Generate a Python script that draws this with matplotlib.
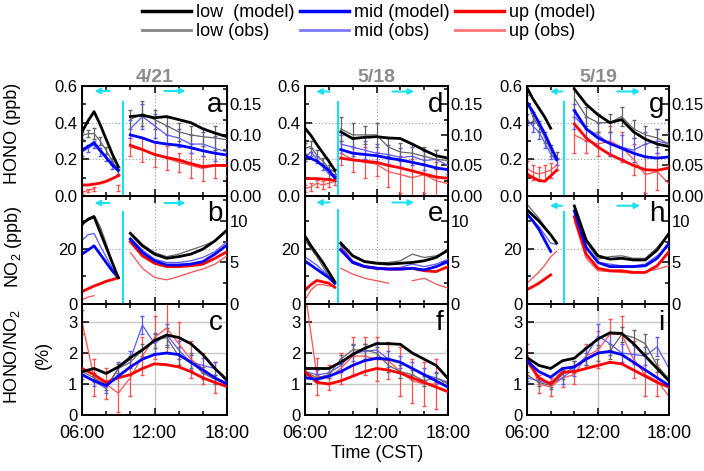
import numpy as np
import matplotlib
matplotlib.use('Agg')
import matplotlib.pyplot as plt
from matplotlib.lines import Line2D
from matplotlib.ticker import MultipleLocator, FormatStrFormatter

nan = np.nan

plt.rcParams['font.family'] = ['Liberation Sans', 'DejaVu Sans']
plt.rcParams['mathtext.default'] = 'regular'

days = ['4/21', '5/18', '5/19']
letters = ['abc', 'def', 'ghi']
switch_time = [9.4, 8.77, 9.13]
hours = [6, 7, 8, 9, 10, 11, 12, 13, 14, 15, 16, 17, 18]

# ---------------- 4/21 ----------------
t_am_421 = [6, 6.5, 7, 7.5, 8, 8.5, 9]
t_pm_421 = [10, 11, 12, 13, 14, 15, 16, 17, 18]
# [low, mid, up]
hono_mod_am_421 = [[0.35, 0.41, 0.46, 0.39, 0.31, 0.23, 0.16],
                   [0.25, 0.27, 0.29, 0.25, 0.21, 0.17, 0.14],
                   [0.06, 0.06, 0.065, 0.07, 0.08, 0.095, 0.11]]
hono_obs_am_421 = [[0.33, 0.34, 0.34, 0.30, 0.25, 0.19, 0.14],
                   [0.24, 0.26, 0.28, 0.24, 0.21, 0.17, 0.13],
                   [0.02, 0.03, 0.04, nan, nan, nan, 0.045]]
hono_err_am_421 = [[0.02, 0.02, 0.03, 0.02, 0.02, 0.02, 0.02],
                   [0.02, 0.02, 0.02, 0.02, 0.02, 0.02, 0.015],
                   [0.01, 0.01, 0.01, nan, nan, nan, 0.015]]
hono_mod_pm_421 = [[0.130, 0.132, 0.128, 0.130, 0.125, 0.120, 0.110, 0.103, 0.097],
                   [0.100, 0.095, 0.088, 0.085, 0.083, 0.079, 0.074, 0.070, 0.067],
                   [0.083, 0.076, 0.068, 0.063, 0.059, 0.053, 0.048, 0.050, 0.050]]
hono_obs_pm_421 = [[0.125, 0.135, 0.125, 0.115, 0.105, 0.100, 0.097, 0.095, 0.092],
                   [0.110, 0.130, 0.115, 0.100, 0.095, 0.085, 0.085, 0.078, 0.072],
                   [0.080, 0.075, 0.068, 0.062, 0.055, 0.050, 0.045, 0.050, 0.048]]
hono_err_pm_421 = [[0.015, 0.02, 0.015, 0.015, 0.015, 0.015, 0.015, 0.02, 0.015],
                   [0.015, 0.02, 0.02, 0.015, 0.015, 0.015, 0.02, 0.02, 0.015],
                   [0.015, 0.02, 0.02, 0.02, 0.015, 0.02, 0.02, 0.02, 0.015]]
no2_mod_am_421 = [[29, 30.5, 31.5, 26, 20.5, 15, 9.5],
                  [18, 19.5, 21, 18, 15, 12, 9.5],
                  [4.5, 5.5, 6.5, 7.3, 8.2, 8.8, 9.5]]
no2_obs_am_421 = [[28, 31, 32, 28, 22, 15, 10],
                  [23, 25, 25.5, 21, 17, 13, 10],
                  [1.5, 2.5, 3.0, nan, nan, nan, 6.0]]
no2_mod_pm_421 = [[8.5, 7.0, 6.0, 5.5, 5.7, 6.0, 6.6, 7.6, 8.9],
                  [7.8, 6.2, 5.2, 4.7, 4.7, 4.8, 5.1, 6.0, 7.1],
                  [7.5, 5.8, 4.9, 4.5, 4.5, 4.6, 4.8, 5.5, 6.3]]
no2_obs_pm_421 = [[8.6, 7.2, 6.2, 5.7, 6.0, 6.5, 7.0, 7.6, 8.8],
                  [8.0, 6.5, 5.4, 5.0, 5.0, 5.2, 5.6, 6.3, 7.5],
                  [6.2, 4.3, 3.2, 2.9, 3.3, 3.8, 4.2, 4.8, 5.8]]
ratio_mod_421 = [[1.40, 1.50, 1.34, 1.55, 1.85, 2.10, 2.40, 2.58, 2.50, 2.30, 1.95, 1.50, 1.13],
                 [1.30, 1.10, 0.95, 1.25, 1.55, 1.80, 1.95, 2.00, 1.95, 1.70, 1.45, 1.20, 1.00],
                 [1.50, 1.30, 1.05, 1.20, 1.30, 1.50, 1.65, 1.62, 1.55, 1.40, 1.20, 1.05, 0.92]]
ratio_obs_421 = [[1.40, 1.20, 0.90, 1.50, 1.70, 2.10, 2.40, 2.50, 1.90, 1.75, 1.35, 1.15, 1.00],
                 [1.30, 1.10, 0.85, 1.50, 1.80, 2.90, 2.30, 2.60, 2.10, 1.70, 1.60, 1.50, 1.05],
                 [3.00, 1.20, 1.00, 0.70, 1.20, 1.90, 2.50, 2.80, 2.30, 1.80, 1.50, 1.20, 0.95]]
ratio_err_421 = [[0.10, 0.15, 0.10, 0.15, 0.20, 0.20, 0.25, 0.30, 0.30, 0.25, 0.20, 0.15, 0.10],
                 [0.15, 0.15, 0.15, 0.20, 0.25, 0.30, 0.30, 0.35, 0.30, 0.25, 0.25, 0.20, 0.15],
                 [0.40, 0.60, 0.50, 0.60, 0.60, 0.60, 0.70, 0.80, 0.70, 0.60, 0.50, 0.50, 0.40]]

# ---------------- 5/18 ----------------
t_am_518 = [6, 6.5, 7, 7.5, 8, 8.5]
t_pm_518 = [9, 10, 11, 12, 13, 14, 15, 16, 17, 18]
hono_mod_am_518 = [[0.37, 0.33, 0.28, 0.235, 0.19, 0.14],
                   [0.22, 0.205, 0.19, 0.165, 0.14, 0.10],
                   [0.095, 0.095, 0.095, 0.092, 0.09, 0.085]]
hono_obs_am_518 = [[0.26, 0.27, 0.22, 0.19, 0.15, 0.13],
                   [0.21, 0.24, 0.20, 0.16, 0.12, 0.10],
                   [0.04, 0.05, 0.07, 0.06, 0.07, 0.08]]
hono_err_am_518 = [[0.03, 0.03, 0.03, 0.02, 0.02, 0.02],
                   [0.02, 0.02, 0.02, 0.02, 0.02, 0.02],
                   [0.02, 0.02, 0.02, 0.02, 0.02, 0.02]]
hono_mod_pm_518 = [[0.105, 0.094, 0.096, 0.097, 0.095, 0.094, 0.085, 0.075, 0.066, 0.062],
                   [0.076, 0.070, 0.068, 0.066, 0.062, 0.059, 0.055, 0.051, 0.046, 0.043],
                   [0.062, 0.059, 0.057, 0.055, 0.050, 0.046, 0.041, 0.036, 0.031, 0.029]]
hono_obs_pm_518 = [[0.110, 0.100, 0.100, 0.100, 0.080, 0.072, 0.070, 0.065, 0.060, 0.058],
                   [0.085, 0.080, 0.075, 0.070, 0.068, 0.063, 0.065, 0.058, 0.060, 0.050],
                   [0.070, 0.060, 0.055, 0.052, 0.040, 0.035, 0.030, 0.035, 0.025, 0.020]]
hono_err_pm_518 = [[0.02, 0.02, 0.015, 0.02, 0.015, 0.015, 0.015, 0.015, 0.015, 0.02],
                   [0.015, 0.015, 0.015, 0.015, 0.015, 0.015, 0.015, 0.015, 0.015, 0.015],
                   [0.02, 0.02, 0.025, 0.02, 0.025, 0.03, 0.03, 0.03, 0.03, 0.03]]
no2_mod_am_518 = [[24.5, 21, 18, 15, 11.5, 8],
                  [15.5, 14, 12.5, 11, 9.5, 7.5],
                  [5, 7, 8.5, 8, 7.5, 6]]
no2_obs_am_518 = [[23, 20, 17, 13.5, 10, 8],
                  [17, 15.5, 14, 12, 10, 7],
                  [1.5, 5, 7, 7, 6.5, 6.5]]
no2_mod_pm_518 = [[7.3, 5.8, 5.1, 4.9, 4.8, 4.9, 5.0, 5.2, 5.6, 6.5],
                  [6.5, 5.0, 4.5, 4.3, 4.2, 4.2, 4.3, 4.1, 4.5, 5.1],
                  [6.6, 5.0, 4.5, 4.3, 4.2, 4.2, 4.3, 4.0, 3.9, 4.5]]
no2_obs_pm_518 = [[7.5, 5.9, 5.2, 5.0, 5.0, 5.2, 6.0, 5.6, 5.8, 6.3],
                  [7.0, 5.2, 4.6, 4.4, 4.3, 4.4, 4.8, 4.5, 4.8, 5.4],
                  [4.3, 3.6, 3.1, 2.8, 2.5, nan, 2.8, 3.1, 2.4, 1.9]]
ratio_mod_518 = [[1.50, 1.50, 1.50, 1.70, 1.95, 2.15, 2.30, 2.30, 2.28, 2.00, 1.80, 1.60, 1.18],
                 [1.20, 1.15, 1.25, 1.40, 1.60, 1.75, 1.83, 1.80, 1.70, 1.50, 1.30, 1.10, 0.90],
                 [1.40, 1.05, 1.00, 1.10, 1.25, 1.40, 1.50, 1.45, 1.35, 1.20, 1.05, 0.90, 0.75]]
ratio_obs_518 = [[1.40, 1.20, 1.30, 1.80, 2.10, 2.10, 2.00, 1.60, 1.40, 1.30, 1.10, 1.20, 1.00],
                 [1.40, 1.30, 1.35, 1.60, 2.00, 2.05, 2.10, 1.80, 1.70, 1.50, 1.30, 1.20, 1.05],
                 [4.00, 1.25, 1.20, 1.50, 1.90, 1.90, 1.80, 1.75, 1.40, 1.10, 1.00, 1.00, 1.10]]
ratio_err_518 = [[0.10, 0.10, 0.10, 0.15, 0.20, 0.20, 0.20, 0.20, 0.20, 0.15, 0.15, 0.15, 0.10],
                 [0.15, 0.15, 0.15, 0.20, 0.25, 0.25, 0.25, 0.25, 0.20, 0.20, 0.20, 0.20, 0.15],
                 [0.50, 0.60, 0.40, 0.50, 0.60, 0.60, 0.70, 0.60, 0.80, 0.70, 0.70, 0.80, 1.00]]

# ---------------- 5/19 ----------------
t_am_519 = [6, 6.5, 7, 7.5, 8, 8.5]
t_pm_519 = [10, 11, 12, 13, 14, 15, 16, 17, 18]
hono_mod_am_519 = [[0.59, 0.53, 0.48, 0.43, 0.37, nan],
                   [0.51, 0.46, 0.40, 0.34, 0.27, 0.20],
                   [0.12, 0.10, 0.085, 0.08, 0.11, 0.14]]
hono_obs_am_519 = [[0.52, 0.43, 0.38, 0.32, 0.25, 0.22],
                   [0.42, 0.38, 0.35, 0.29, 0.23, 0.19],
                   [0.15, 0.13, 0.12, 0.13, 0.14, 0.17]]
hono_err_am_519 = [[0.03, 0.03, 0.03, 0.03, 0.03, 0.02],
                   [0.03, 0.03, 0.04, 0.03, 0.03, 0.02],
                   [0.04, 0.04, 0.04, 0.04, 0.04, 0.03]]
hono_mod_pm_519 = [[0.175, 0.150, 0.133, 0.120, 0.125, 0.105, 0.093, 0.085, 0.081],
                   [0.140, 0.110, 0.095, 0.086, 0.078, 0.070, 0.064, 0.062, 0.064],
                   [0.118, 0.095, 0.080, 0.068, 0.059, 0.050, 0.043, 0.042, 0.046]]
hono_obs_pm_519 = [[0.160, 0.130, 0.120, 0.120, 0.130, 0.110, 0.100, 0.095, 0.085],
                   [0.130, 0.110, 0.100, 0.085, 0.080, 0.075, 0.085, 0.090, 0.085],
                   [0.100, 0.090, 0.085, 0.090, 0.080, 0.060, 0.035, 0.040, 0.020]]
hono_err_pm_519 = [[0.02, 0.015, 0.015, 0.015, 0.015, 0.015, 0.015, 0.015, 0.015],
                   [0.02, 0.02, 0.02, 0.02, 0.02, 0.02, 0.02, 0.02, 0.02],
                   [0.03, 0.02, 0.02, 0.025, 0.025, 0.025, 0.03, 0.03, 0.03]]
no2_mod_am_519 = [[34, 32, 30, 27.5, 25, 22],
                  [32.5, 30, 27, 23, 19, nan],
                  [5.2, 6.3, 7.5, 9, 10.5, nan]]
no2_obs_am_519 = [[36, 33.5, 31, 28, 25, 22],
                  [32, 30, 28, 25, 22, 21.5],
                  [7.5, 9.5, 11.5, 14, 17, 19]]
no2_mod_pm_519 = [[11.8, 7.7, 5.8, 5.4, 5.5, 5.3, 5.3, 6.5, 8.5],
                  [11.2, 6.8, 5.0, 4.5, 4.5, 4.5, 4.6, 5.5, 7.3],
                  [10.5, 6.0, 4.3, 4.0, 4.0, 3.8, 3.8, 4.6, 6.3]]
no2_obs_pm_519 = [[11.5, 7.5, 5.4, 5.7, 5.8, 5.5, 5.5, 6.8, 8.5],
                  [11.0, 7.0, 5.0, 4.8, 4.6, 4.6, 4.8, 5.8, 7.0],
                  [10.0, 5.5, 4.0, 3.9, 3.8, 3.7, 3.9, 4.2, 4.6]]
ratio_mod_519 = [[1.85, 1.60, 1.50, 1.75, 1.83, 2.15, 2.45, 2.65, 2.63, 2.30, 1.90, 1.50, 1.10],
                 [1.75, 1.40, 1.22, 1.50, 1.55, 1.80, 2.00, 2.05, 1.95, 1.70, 1.45, 1.20, 0.95],
                 [1.75, 1.20, 1.00, 1.38, 1.40, 1.50, 1.60, 1.70, 1.65, 1.45, 1.25, 1.05, 0.90]]
ratio_obs_519 = [[1.30, 1.05, 0.95, 1.30, 1.55, 1.80, 2.00, 2.05, 2.60, 2.50, 2.30, 1.60, 1.15],
                 [1.20, 1.10, 1.00, 1.20, 1.50, 1.90, 2.55, 2.30, 2.00, 1.95, 1.90, 2.20, 1.50],
                 [2.00, 1.00, 0.90, 1.20, 1.30, 1.90, 2.10, 2.60, 2.60, 1.80, 1.30, 1.10, 0.60]]
ratio_err_519 = [[0.10, 0.10, 0.10, 0.15, 0.20, 0.20, 0.25, 0.25, 0.25, 0.25, 0.30, 0.20, 0.15],
                 [0.10, 0.10, 0.10, 0.20, 0.25, 0.30, 0.40, 0.35, 0.30, 0.30, 0.30, 0.30, 0.25],
                 [0.30, 0.30, 0.30, 0.30, 0.30, 0.40, 0.60, 0.50, 0.60, 0.60, 0.70, 0.50, 0.40]]

t_am = [t_am_421, t_am_518, t_am_519]
t_pm = [t_pm_421, t_pm_518, t_pm_519]
hono_mod_am = [hono_mod_am_421, hono_mod_am_518, hono_mod_am_519]
hono_obs_am = [hono_obs_am_421, hono_obs_am_518, hono_obs_am_519]
hono_err_am = [hono_err_am_421, hono_err_am_518, hono_err_am_519]
hono_mod_pm = [hono_mod_pm_421, hono_mod_pm_518, hono_mod_pm_519]
hono_obs_pm = [hono_obs_pm_421, hono_obs_pm_518, hono_obs_pm_519]
hono_err_pm = [hono_err_pm_421, hono_err_pm_518, hono_err_pm_519]
no2_mod_am = [no2_mod_am_421, no2_mod_am_518, no2_mod_am_519]
no2_obs_am = [no2_obs_am_421, no2_obs_am_518, no2_obs_am_519]
no2_mod_pm = [no2_mod_pm_421, no2_mod_pm_518, no2_mod_pm_519]
no2_obs_pm = [no2_obs_pm_421, no2_obs_pm_518, no2_obs_pm_519]
ratio_mod = [ratio_mod_421, ratio_mod_518, ratio_mod_519]
ratio_obs = [ratio_obs_421, ratio_obs_518, ratio_obs_519]
ratio_err = [ratio_err_421, ratio_err_518, ratio_err_519]

mod_colors = ['black', '#0000ff', '#ff0000']
obs_colors = ['#666666', '#5a5aff', '#ff5050']
cyan = '#1ee0ec'

W, H = 704, 471
col_px = [(82, 145), (305, 143), (527, 142)]
row_px = [(86, 196), (196, 304), (304, 415)]

fig = plt.figure(figsize=(W / 100, H / 100), dpi=100)


def add_ax(c, r):
    x0, w = col_px[c]
    top, bot = row_px[r]
    return fig.add_axes([x0 / W, 1 - bot / H, w / W, (bot - top) / H])


def draw(ax, t, mod, obs, err=None):
    for k in [2, 1, 0]:
        if err is None:
            ax.plot(t, obs[k], color=obs_colors[k], lw=0.9, zorder=2)
        else:
            ax.errorbar(t, obs[k], yerr=err[k], color=obs_colors[k], lw=0.9,
                        elinewidth=0.9, capsize=1.5, zorder=2)
    for k in [2, 1, 0]:
        ax.plot(t, mod[k], color=mod_colors[k], lw=2.0, zorder=3)


def style(ax, xlabels):
    ax.set_xlim(6, 18)
    ax.set_xticks([6, 12, 18])
    ax.xaxis.set_minor_locator(MultipleLocator(2))
    ax.tick_params(which='both', direction='in', top=True, right=False, width=1.1, labelsize=12)
    ax.tick_params(which='major', length=5)
    ax.tick_params(which='minor', length=3)
    ax.tick_params(axis='x', pad=7)
    for s in ax.spines.values():
        s.set_linewidth(1.4)
    if xlabels:
        ax.set_xticklabels(['06:00', '12:00', '18:00'], fontsize=13)
    else:
        ax.set_xticklabels([])


def style_right(axr):
    axr.tick_params(which='both', direction='in', right=True, width=1.1, labelsize=12, pad=2)
    axr.tick_params(which='major', length=5)
    axr.tick_params(which='minor', length=3)


arrow_y = [[0.955, 0.935], [0.95, 0.94], [0.95, 0.91]]
arrow_left = [(8.5, 6.8), (8.3, 6.7), (9.2, 7.7)]
arrow_right = [(12.6, 14.8), (13.1, 15.4), (13.4, 15.8)]
vline_top = [[0.855, 0.85], [0.857, 0.87], [0.857, 0.855]]

for c in range(3):
    # HONO
    ax1 = add_ax(c, 0)
    ax1r = ax1.twinx()
    style(ax1, False)
    style_right(ax1r)
    ax1.set_ylim(0, 0.6)
    ax1.set_yticks([0, 0.2, 0.4, 0.6])
    ax1.yaxis.set_minor_locator(MultipleLocator(0.1))
    ax1.yaxis.set_major_formatter(FormatStrFormatter('%.1f'))
    ax1r.set_ylim(0, 0.18)
    ax1r.set_yticks([0, 0.05, 0.10, 0.15])
    ax1r.yaxis.set_minor_locator(MultipleLocator(0.025))
    ax1r.yaxis.set_major_formatter(FormatStrFormatter('%.2f'))
    ax1.grid(True, which='major', ls=(0, (1, 2)), color='#9a9a9a', lw=0.8)
    ax1.set_axisbelow(True)
    draw(ax1, t_am[c], hono_mod_am[c], hono_obs_am[c], hono_err_am[c])
    draw(ax1r, t_pm[c], hono_mod_pm[c], hono_obs_pm[c], hono_err_pm[c])
    ax1.set_title(days[c], color='#8c8c8c', fontweight='bold', fontsize=14, pad=3)

    # NO2
    ax2 = add_ax(c, 1)
    ax2r = ax2.twinx()
    style(ax2, False)
    style_right(ax2r)
    ax2.set_ylim(0, 39)
    ax2.set_yticks([0, 20])
    ax2.yaxis.set_minor_locator(MultipleLocator(10))
    ax2r.set_ylim(0, 13)
    ax2r.set_yticks([0, 5, 10])
    ax2r.yaxis.set_minor_locator(MultipleLocator(2.5))
    ax2.grid(True, which='major', ls=(0, (1, 2)), color='#9a9a9a', lw=0.8)
    ax2.set_axisbelow(True)
    draw(ax2, t_am[c], no2_mod_am[c], no2_obs_am[c])
    draw(ax2r, t_pm[c], no2_mod_pm[c], no2_obs_pm[c])

    # cyan markers for left / right axis
    for r, (a, ar) in enumerate([(ax1, ax1r), (ax2, ax2r)]):
        ar.axvline(switch_time[c], ymin=0, ymax=vline_top[c][r], color=cyan, lw=1.5, zorder=5)
        tr = ar.get_xaxis_transform()
        ar.annotate('', xy=(arrow_left[c][1], arrow_y[c][r]), xytext=(arrow_left[c][0], arrow_y[c][r]),
                    xycoords=tr, textcoords=tr,
                    arrowprops=dict(arrowstyle='-|>', color=cyan, lw=1.5, mutation_scale=8))
        ar.annotate('', xy=(arrow_right[c][1], arrow_y[c][r]), xytext=(arrow_right[c][0], arrow_y[c][r]),
                    xycoords=tr, textcoords=tr,
                    arrowprops=dict(arrowstyle='-|>', color=cyan, lw=1.5, mutation_scale=8))

    # ratio
    ax3 = add_ax(c, 2)
    style(ax3, True)
    ax3.set_ylim(0, 3.58)
    ax3.set_yticks([0, 1, 2, 3])
    ax3.grid(True, which='major', ls='-', color='#c8c8c8', lw=1.0)
    ax3.set_axisbelow(True)
    draw(ax3, hours, ratio_mod[c], ratio_obs[c], ratio_err[c])

    for ax, letter in zip([ax1r, ax2r, ax3], letters[c]):
        ax.text(0.97, 0.95, letter, transform=ax.transAxes, ha='right', va='top',
                fontsize=20, zorder=10)

fig.text(13 / W, 1 - 133 / H, 'HONO (ppb)', rotation=90, ha='center', va='center', fontsize=13)
fig.text(14 / W, 1 - 247 / H, 'NO$_2$ (ppb)', rotation=90, ha='center', va='center', fontsize=13)
fig.text(12 / W, 1 - 357 / H, 'HONO/NO$_2$', rotation=90, ha='center', va='center', fontsize=13)
fig.text(43 / W, 1 - 355 / H, '(%)', rotation=90, ha='center', va='center', fontsize=13)
fig.text(377 / W, 1 - 454 / H, 'Time (CST)', ha='center', va='center', fontsize=13)

handles = []
labels = []
names = ['low', 'mid', 'up']
for k in range(3):
    handles.append(Line2D([], [], color=mod_colors[k], lw=2.5))
    labels.append(names[k] + ('  (model)' if k == 0 else ' (model)'))
    handles.append(Line2D([], [], color=obs_colors[k], lw=2.0, alpha=0.8))
    labels.append(names[k] + ' (obs)')
fig.legend(handles, labels, ncol=3, loc='upper center', bbox_to_anchor=(0.524, 1.018),
           frameon=False, fontsize=13, handlelength=2.7, handletextpad=0.3,
           columnspacing=0.3, labelspacing=0.12, borderpad=0.2)

fig.savefig('out.png', dpi=100)
